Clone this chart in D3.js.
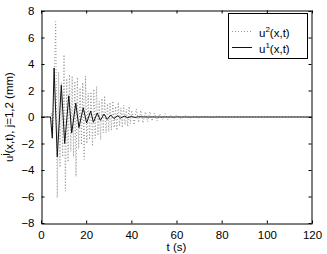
<!DOCTYPE html>
<html>
<head>
<meta charset="utf-8">
<script src="https://cdn.jsdelivr.net/npm/d3@7"></script>
<style>
body{margin:0;background:#fff}
svg text{font-family:"Liberation Sans",Arial,Helvetica,sans-serif}
</style>
</head>
<body>
<svg id="chart" width="327" height="254"></svg>
<script>
// solid curve u1 (turning points)
const u1T = [0, 4.2, 5.0, 5.8, 7.2, 9.0, 10.5, 12.3, 13.6, 15.4, 16.8, 18.7, 20.2, 22.0, 23.2, 24.9, 26.3, 27.9, 29.3, 30.9, 32.3, 33.9, 35.3, 36.9, 38.4, 40.0, 41.6, 43.2, 46, 120]
const u1V = [0, 0, -1.6, 3.7, -3.0, 2.4, -2.0, 1.6, -1.2, 1.05, -0.8, 0.7, -0.45, 0.45, -0.4, 0.3, -0.25, 0.22, -0.18, 0.15, -0.12, 0.1, -0.08, 0.07, -0.05, 0.04, -0.03, 0.02, 0, 0]

// dotted curve u2
const u2T = [0, 4.0, 4.6, 5.2, 5.8, 6.5, 7.2, 7.8, 8.4, 9.0, 9.6, 10.2, 10.8, 11.4, 12.0, 12.6, 13.2, 13.8, 14.4, 15.0, 15.5, 16.1, 16.7, 17.3, 17.9, 18.5, 19.1, 19.7, 20.3, 20.9, 21.5, 22.1, 22.8, 23.4, 24.0, 24.6, 25.2, 25.8, 26.4, 27.0, 27.6, 28.2, 28.8, 29.4, 30.0, 30.6, 31.2, 31.8, 32.4, 33.0, 33.6, 34.2, 34.8, 35.4, 36.0, 36.6, 37.2, 37.8, 38.4, 39.0, 39.6, 40.2, 41.2, 42.2, 43.2, 44.2, 45.2, 46.2, 47.2, 48.2, 49.2, 50.2, 51.4, 52.6, 53.8, 55.0, 56.2, 57.4, 58.6, 60.0, 62.0, 64.0, 66.0, 68.0, 70.0, 72.0, 75.0, 78.0, 80.0, 120]
const u2V = [0, 0, 0.3, -1.2, 2.0, 7.2, -6.1, 3.4, -3.8, 2.6, -3.0, 4.7, -5.6, 2.9, -3.4, 3.2, -2.6, 3.1, -3.0, 2.7, -4.5, 3.0, -2.4, 2.2, -2.1, 2.6, -3.2, 3.1, -2.0, 1.8, -1.7, 1.9, -2.2, 2.1, -1.6, 2.3, -1.4, 1.2, -1.7, 1.4, -1.2, 1.6, -1.2, 1.0, -1.1, 1.1, -1.0, 1.2, -0.8, 0.8, -1.0, 1.1, -0.7, 0.7, -0.8, 0.9, -0.6, 0.6, -0.7, 0.8, -0.5, 0.5, -0.6, 0.6, -0.4, 0.5, -0.45, 0.4, -0.35, 0.4, -0.3, 0.3, -0.3, 0.25, -0.2, 0.25, -0.2, 0.15, -0.15, 0.15, -0.12, 0.1, -0.1, 0.08, -0.06, 0.05, -0.04, 0.03, 0, 0]

const xTicks = [0, 20, 40, 60, 80, 100, 120]
const yTicks = [-8, -6, -4, -2, 0, 2, 4, 6, 8]

const svg = d3.select('#chart')
const x = d3.scaleLinear().domain([0, 120]).range([41, 312])
const y = d3.scaleLinear().domain([-8, 8]).range([223, 11])

const line = d3.line().x(d => x(d[0])).y(d => y(d[1]))

svg.append('path')
	.datum(d3.zip(u2T, u2V))
	.attr('d', line)
	.attr('fill', 'none')
	.attr('stroke', '#888')
	.attr('stroke-width', 0.9)
	.attr('stroke-dasharray', '1,2')

svg.append('path')
	.datum(d3.zip(u1T, u1V))
	.attr('d', line)
	.attr('fill', 'none')
	.attr('stroke', '#111')
	.attr('stroke-width', 1)

// axes, MATLAB style: ticks inward on all sides
const fmt = v => v < 0 ? '\u2212' + Math.abs(v) : String(v)

svg.append('g').attr('transform', 'translate(0,223.5)')
	.call(d3.axisBottom(x).tickValues(xTicks).tickSizeInner(-3).tickSizeOuter(0).tickPadding(7).tickFormat(fmt))
svg.append('g').attr('transform', 'translate(0,10.5)')
	.call(d3.axisTop(x).tickValues(xTicks).tickSizeInner(-3).tickSizeOuter(0).tickFormat(''))
svg.append('g').attr('transform', 'translate(41.5,0)')
	.call(d3.axisLeft(y).tickValues(yTicks).tickSizeInner(-3).tickSizeOuter(0).tickPadding(7).tickFormat(fmt))
svg.append('g').attr('transform', 'translate(311.5,0)')
	.call(d3.axisRight(y).tickValues(yTicks).tickSizeInner(-3).tickSizeOuter(0).tickFormat(''))

svg.selectAll('.domain').attr('stroke', '#000')
svg.selectAll('.tick line').attr('stroke', '#000')
svg.selectAll('.tick text').attr('font-size', '11.5px').attr('fill', '#000')
	.attr('font-family', '"Liberation Sans",Arial,sans-serif')

// axis labels
svg.append('text')
	.attr('x', 176.5).attr('y', 250.5)
	.attr('text-anchor', 'middle')
	.attr('font-size', '11.5px')
	.text('t (s)')

let yl = svg.append('text')
	.attr('transform', 'translate(13,117) rotate(-90)')
	.attr('text-anchor', 'middle')
	.attr('font-size', '11.5px')
yl.append('tspan').text('u')
yl.append('tspan').attr('dy', -5).attr('font-size', '9px').text('j')
yl.append('tspan').attr('dy', 5).text('(x,t), j=1,2 (mm)')

// legend
const legend = [
	{name: '2', dash: '1,2', color: '#888', w: 0.9},
	{name: '1', dash: null, color: '#111', w: 1}
]
svg.append('rect')
	.attr('x', 228.5).attr('y', 13.5).attr('width', 79).attr('height', 45)
	.attr('fill', '#fff').attr('stroke', '#000')

legend.forEach(function(d, i){
	let ly = 31.5 + i * 16
	svg.append('line')
		.attr('x1', 232).attr('x2', 252).attr('y1', ly).attr('y2', ly)
		.attr('stroke', d.color).attr('stroke-width', d.w)
		.attr('stroke-dasharray', d.dash)
	let t = svg.append('text').attr('x', 259).attr('y', ly + 5).attr('font-size', '11.5px')
	t.append('tspan').text('u')
	t.append('tspan').attr('dy', -5).attr('font-size', '8px').text(d.name)
	t.append('tspan').attr('dy', 5).text('(x,t)')
})
</script>
</body>
</html>
